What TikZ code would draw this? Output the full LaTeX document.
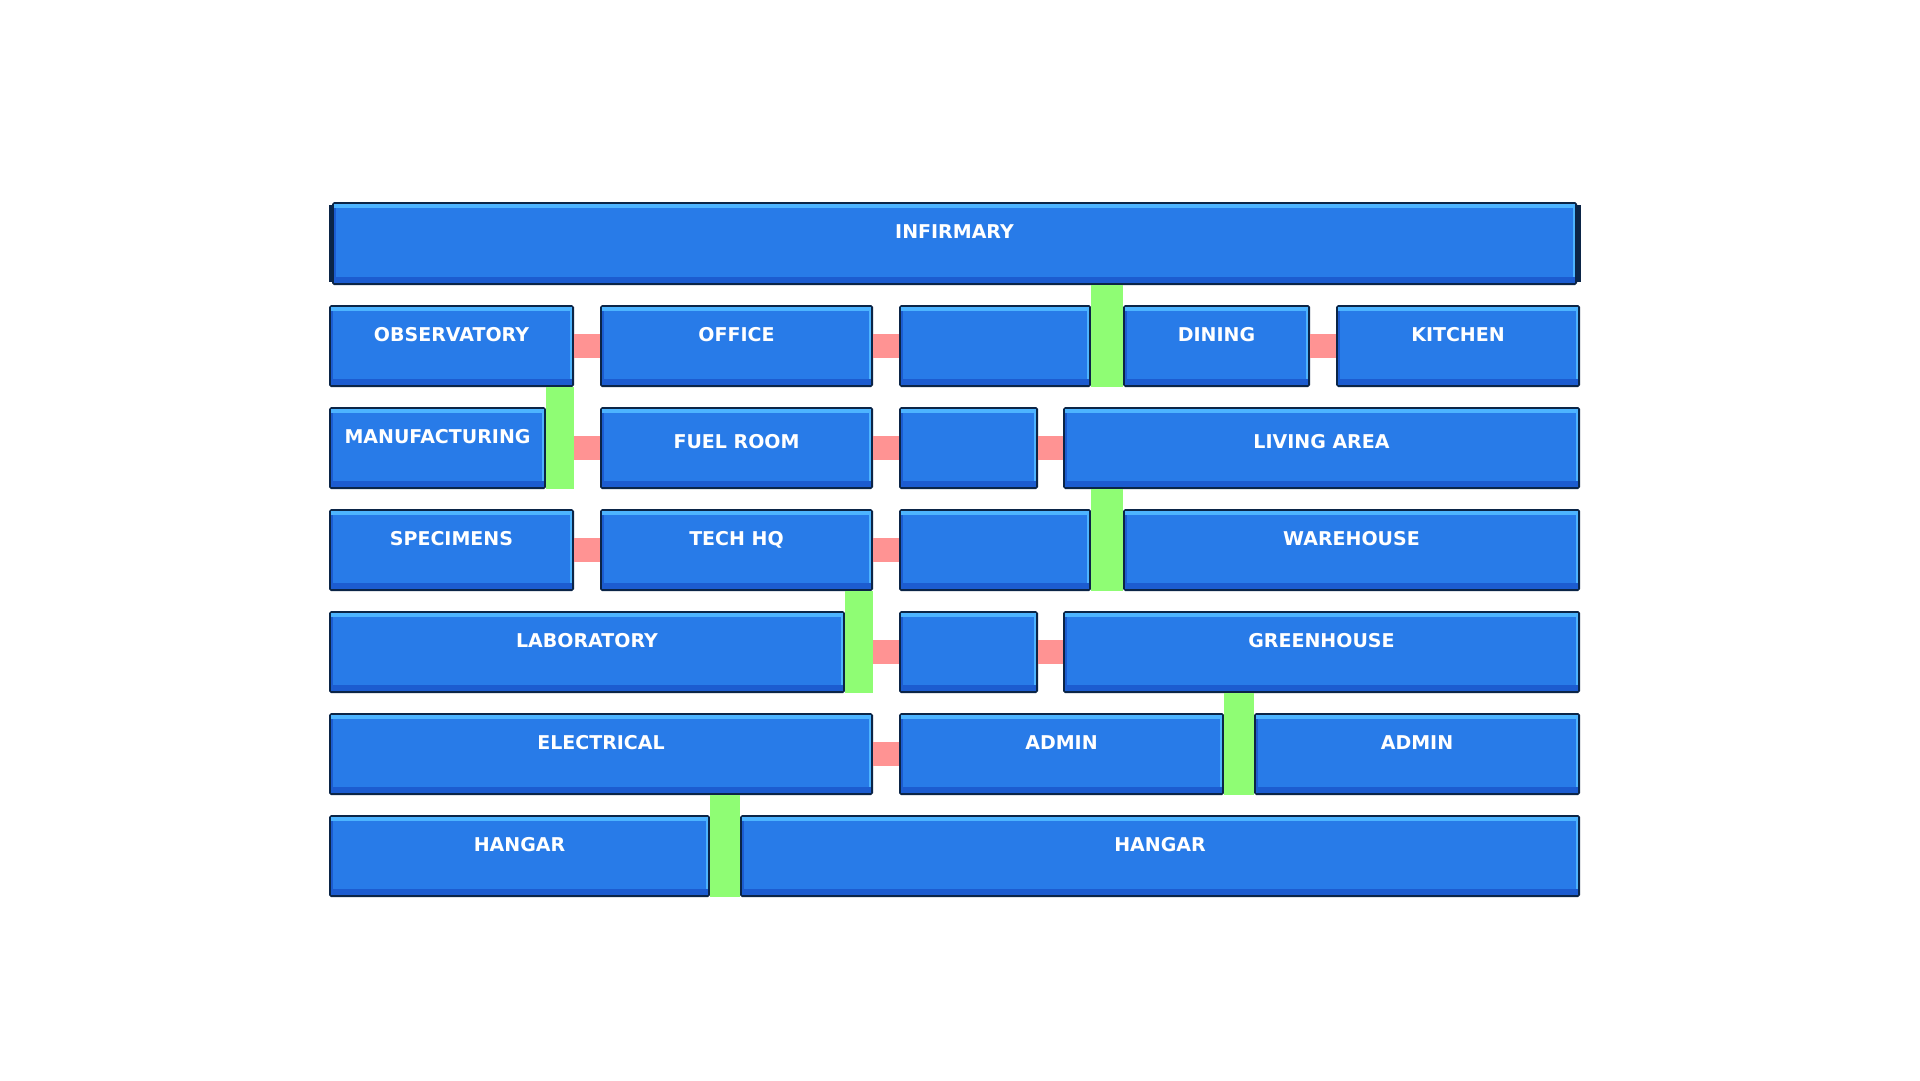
\documentclass[tikz,border=0pt]{standalone}
\usepackage{fontspec}
\usetikzlibrary{fit,calc}
\newfontfamily\roomfont{DejaVu Sans}

\definecolor{roomline}{HTML}{0B2547}
\definecolor{roomhi}{HTML}{4DB4FF}
\definecolor{roomfill}{HTML}{287BE8}
\definecolor{roomlo}{HTML}{1C5CD0}
\definecolor{doorred}{HTML}{FF9393}
\definecolor{liftgreen}{HTML}{8FFD74}

\tikzset{
  roomarea/.style={inner sep=0pt,outer sep=0pt},
  roomlabel/.style={anchor=base,text=white,font=\roomfont\bfseries\fontsize{19}{22}\selectfont},
  doorlink/.style={fill=doorred},
  liftlink/.style={fill=liftgreen}
}

% #1 name, #2 x1, #3 y1, #4 x2, #5 y2 (pixel units, y down)
\newcommand{\roombox}[5]{%
  \fill[roomline] (#2+2,#3) -- (#4-2,#3) -- (#4,#3+2) -- (#4,#5-2) -- (#4-2,#5)
    -- (#2+2,#5) -- (#2,#5-2) -- (#2,#3+2) -- cycle;
  \fill[roomhi] (#2+2,#3+2) rectangle (#4-2,#5-2);
  \fill[roomlo] (#2+2,#5-8) rectangle (#4-2,#5-2);
  \fill[roomlo] (#2+2,#3+6) rectangle (#2+4,#5-2);
  \fill[roomfill] (#2+4,#3+6) rectangle (#4-4,#5-8);
  \node[roomarea,fit={(#2,#3) (#4,#5)}] (#1) {};
}

\begin{document}
\begin{tikzpicture}[x=1pt,y=-1pt]
\useasboundingbox (0,0) rectangle (1920,1080);
\fill[white] (0,0) rectangle (1920,1080);

% rooms
\fill[roomline] (329,205) rectangle (1581,282);
\roombox{infirmary}{332}{202}{1577}{285}
\roombox{obs}{329}{305}{574}{387}
\roombox{office}{600}{305}{873}{387}
\roombox{hallA}{899}{305}{1091}{387}
\roombox{dining}{1123}{305}{1310}{387}
\roombox{kitchen}{1336}{305}{1580}{387}
\roombox{manuf}{329}{407}{546}{489}
\roombox{fuel}{600}{407}{873}{489}
\roombox{hallB}{899}{407}{1038}{489}
\roombox{living}{1063}{407}{1580}{489}
\roombox{specimens}{329}{509}{574}{591}
\roombox{techhq}{600}{509}{873}{591}
\roombox{hallC}{899}{509}{1091}{591}
\roombox{warehouse}{1123}{509}{1580}{591}
\roombox{lab}{329}{611}{845}{693}
\roombox{hallD}{899}{611}{1038}{693}
\roombox{greenhouse}{1063}{611}{1580}{693}
\roombox{electrical}{329}{713}{873}{795}
\roombox{adminA}{899}{713}{1224}{795}
\roombox{adminB}{1254}{713}{1580}{795}
\roombox{hangarA}{329}{815}{710}{897}
\roombox{hangarB}{740}{815}{1580}{897}

% labels
\node[roomlabel] at ($(infirmary.north)+(0,36)$) {INFIRMARY};
\node[roomlabel] at ($(obs.north)+(0,36)$) {OBSERVATORY};
\node[roomlabel] at ($(office.north)+(0,36)$) {OFFICE};
\node[roomlabel] at ($(dining.north)+(0,36)$) {DINING};
\node[roomlabel] at ($(kitchen.north)+(0,36)$) {KITCHEN};
\node[roomlabel] at ($(manuf.north)+(0,36)$) {MANUFACTURING};
\node[roomlabel] at ($(fuel.north)+(0,41)$) {FUEL ROOM};
\node[roomlabel] at ($(living.north)+(0,41)$) {LIVING AREA};
\node[roomlabel] at ($(specimens.north)+(0,36)$) {SPECIMENS};
\node[roomlabel] at ($(techhq.north)+(0,36)$) {TECH HQ};
\node[roomlabel] at ($(warehouse.north)+(0,36)$) {WAREHOUSE};
\node[roomlabel] at ($(lab.north)+(0,36)$) {LABORATORY};
\node[roomlabel] at ($(greenhouse.north)+(0,36)$) {GREENHOUSE};
\node[roomlabel] at ($(electrical.north)+(0,36)$) {ELECTRICAL};
\node[roomlabel] at ($(adminA.north)+(0,36)$) {ADMIN};
\node[roomlabel] at ($(adminB.north)+(0,36)$) {ADMIN};
\node[roomlabel] at ($(hangarA.north)+(0,36)$) {HANGAR};
\node[roomlabel] at ($(hangarB.north)+(0,36)$) {HANGAR};

% doors
\fill[doorlink] ($(obs.east)+(0,-12)$) rectangle ($(office.west)+(0,12)$);
\fill[doorlink] ($(office.east)+(0,-12)$) rectangle ($(hallA.west)+(0,12)$);
\fill[doorlink] ($(dining.east)+(0,-12)$) rectangle ($(kitchen.west)+(0,12)$);
\fill[doorlink] ($(obs.east |- fuel.west)+(0,-12)$) rectangle ($(fuel.west)+(0,12)$);
\fill[doorlink] ($(fuel.east)+(0,-12)$) rectangle ($(hallB.west)+(0,12)$);
\fill[doorlink] ($(hallB.east)+(0,-12)$) rectangle ($(living.west)+(0,12)$);
\fill[doorlink] ($(specimens.east)+(0,-12)$) rectangle ($(techhq.west)+(0,12)$);
\fill[doorlink] ($(techhq.east)+(0,-12)$) rectangle ($(hallC.west)+(0,12)$);
\fill[doorlink] ($(techhq.east |- hallD.west)+(0,-12)$) rectangle ($(hallD.west)+(0,12)$);
\fill[doorlink] ($(hallD.east)+(0,-12)$) rectangle ($(greenhouse.west)+(0,12)$);
\fill[doorlink] ($(electrical.east)+(0,-12)$) rectangle ($(adminA.west)+(0,12)$);

% lifts
\fill[liftlink] (hallA.east |- infirmary.south) rectangle (dining.south west);
\fill[liftlink] (manuf.east |- obs.south) rectangle (obs.east |- manuf.south);
\fill[liftlink] (hallC.east |- living.south) rectangle (warehouse.south west);
\fill[liftlink] (lab.east |- techhq.south) rectangle (techhq.east |- lab.south);
\fill[liftlink] (adminA.east |- greenhouse.south) rectangle (adminB.south west);
\fill[liftlink] (hangarA.east |- electrical.south) rectangle (hangarB.south west);
\end{tikzpicture}
\end{document}
